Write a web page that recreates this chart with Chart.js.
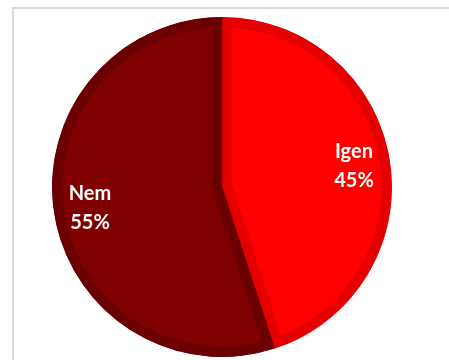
<!DOCTYPE html>
<html>
<head>
<meta charset="utf-8">
<script src="https://cdn.jsdelivr.net/npm/chart.js@4.4.1/dist/chart.umd.min.js"></script>
<style>
  html, body { margin: 0; padding: 0; background: #fff; overflow: hidden; }
  #wrap { position: relative; width: 449px; height: 360px; overflow: hidden; }
  #frame {
    position: absolute; left: 12px; top: 7px; width: 500px; height: 420px;
    border: 2px solid #d9d9d9; box-sizing: border-box;
  }
  #pieChart { position: absolute; left: 0; top: 0; }
</style>
</head>
<body>
<div id="wrap">
  <div id="frame"></div>
  <canvas id="pieChart" width="449" height="360"></canvas>
</div>
<script>
const labels = ["Igen", "Nem"];
const values = [45, 55];
const fillColors = ["#ff0000", "#800000"];
const edgeColors = ["#e40000", "#6b0000"];

// white two-line label (name + percent) inside each slice
const sliceLabels = {
  id: "sliceLabels",
  afterDatasetsDraw(chart) {
    const ctx = chart.ctx;
    const meta = chart.getDatasetMeta(0);
    const total = values.reduce((a, b) => a + b, 0);
    ctx.save();
    ctx.fillStyle = "#ffffff";
    ctx.font = "bold 20px Lato";
    ctx.textAlign = "center";
    ctx.textBaseline = "alphabetic";
    meta.data.forEach((arc, i) => {
      const p = arc.getProps(["x", "y", "startAngle", "endAngle", "outerRadius"], true);
      const mid = (p.startAngle + p.endAngle) / 2;
      const r = p.outerRadius * 0.786;
      const lx = p.x + Math.cos(mid) * r;
      const ly = p.y + Math.sin(mid) * r;
      const pct = Math.round(values[i] / total * 100) + "%";
      ctx.fillText(labels[i], lx, ly - 8);
      ctx.fillText(pct, lx, ly + 21);
    });
    ctx.restore();
  }
};

const pieCtx = document.getElementById("pieChart");
new Chart(pieCtx, {
  type: "pie",
  data: {
    labels: labels,
    datasets: [
      {
        data: values,
        backgroundColor: fillColors,
        borderColor: edgeColors,
        borderWidth: 10,
        borderAlign: "inner",
        offset: 0,
        hoverOffset: 0,
        hoverBorderWidth: 10,
      },
    ],
  },
  options: {
    responsive: false,
    animation: false,
    layout: { padding: { left: 52, right: 57, top: 17, bottom: 3 } },
    plugins: {
      legend: { display: false },
      tooltip: { enabled: false },
    },
  },
  plugins: [sliceLabels],
});
</script>
</body>
</html>
